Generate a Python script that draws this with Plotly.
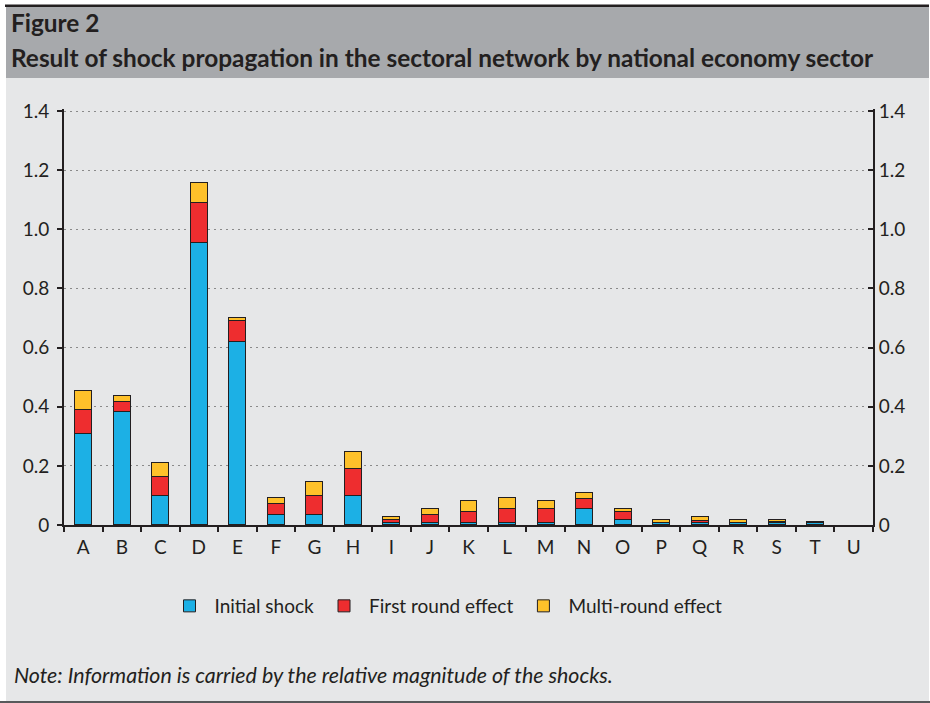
import plotly.graph_objects as go

# Sectors of the national economy (NACE sections)
sectors = list("ABCDEFGHIJKLMNOPQRSTU")

# Contribution of each propagation stage, by sector (None = no contribution drawn)
initial_shock = [0.310, 0.383, 0.100, 0.955, 0.620, 0.037, 0.037, 0.100, 0.007, 0.007,
                 0.010, 0.010, 0.010, 0.055, 0.020, 0.007, 0.007, 0.007, 0.007, 0.010, None]
first_round = [0.081, 0.035, 0.065, 0.137, 0.073, 0.036, 0.064, 0.092, 0.010, 0.030,
               0.037, 0.045, 0.045, 0.035, 0.027, 0.003, 0.009, 0.003, 0.004, 0.001, None]
multi_round = [0.064, 0.019, 0.046, 0.065, 0.009, 0.019, 0.045, 0.055, 0.011, 0.018,
               0.035, 0.037, 0.027, 0.020, 0.010, 0.009, 0.012, 0.009, 0.009, None, None]

y_ticks = [0, 0.2, 0.4, 0.6, 0.8, 1.0, 1.2, 1.4]
y_tick_text = ["0", "0.2", "0.4", "0.6", "0.8", "1.0", "1.2", "1.4"]

series = [
    ("Initial shock", initial_shock, "#1cb0e5"),
    ("First round effect", first_round, "#ee2d2f"),
    ("Multi-round effect", multi_round, "#fec12a"),
]

W, H = 930, 703
FONT = "Lato"
TXT = "#231f20"
Y_MAX = 1.406          # a hair above 1.4 so the top gridline is kept
PX_PER_UNIT = 295.7    # vertical scale of the value axis
Y_ZERO_PX = 525


def px(x):
    return x / W


def py(y):
    return 1 - y / H


fig = go.Figure()
for name, vals, col in series:
    fig.add_trace(go.Bar(
        x=sectors, y=vals, name=name,
        marker=dict(color=col, line=dict(color="#231f20", width=1)),
    ))

# empty trace so the mirrored right-hand value axis gets drawn
fig.add_trace(go.Scatter(x=[], y=[], yaxis="y2", showlegend=False, hoverinfo="skip"))

axis_common = dict(
    range=[0, Y_MAX], tickvals=y_ticks, ticktext=y_tick_text,
    showline=True, linecolor="#231f20", linewidth=2,
    ticklen=5, tickwidth=2, tickcolor="#231f20",
    tickfont=dict(family=FONT, size=19, color=TXT),
    automargin=False, zeroline=False, fixedrange=True,
)

fig.update_layout(
    width=W, height=H, autosize=False,
    margin=dict(l=0, r=0, t=0, b=0),
    paper_bgcolor="white", plot_bgcolor="#e6e7e8",
    barmode="stack", bargap=0.56,
    font=dict(family=FONT, color=TXT),
    xaxis=dict(
        domain=[px(64), px(873)], type="category",
        showline=True, linecolor="#231f20", linewidth=2,
        ticks="outside", tickson="boundaries", ticklen=5, tickwidth=2,
        tickcolor="#231f20", tickfont=dict(family=FONT, size=19, color=TXT),
        ticklabelstandoff=4,
        showgrid=False, automargin=False, fixedrange=True,
    ),
    yaxis=dict(
        domain=[py(Y_ZERO_PX), py(Y_ZERO_PX - Y_MAX * PX_PER_UNIT)],
        ticks="outside", ticklabelstandoff=4,
        showgrid=True, gridcolor="#8a8a8a", griddash="2px,4px", gridwidth=1,
        **axis_common,
    ),
    yaxis2=dict(
        overlaying="y", side="right", ticks="inside", showgrid=False,
        ticklabelstandoff=0, **axis_common,
    ),
    legend=dict(
        orientation="h", x=px(446), xanchor="center", y=py(606), yanchor="middle",
        font=dict(family=FONT, size=19, color=TXT),
        bgcolor="rgba(0,0,0,0)", traceorder="normal", itemwidth=40,
        itemclick=False, itemdoubleclick=False,
    ),
    shapes=[
        # body panel
        dict(type="rect", xref="paper", yref="paper", layer="below",
             x0=px(6), x1=px(929), y0=py(701), y1=py(78),
             fillcolor="#e6e7e8", line=dict(width=0)),
        # header band
        dict(type="rect", xref="paper", yref="paper", layer="below",
             x0=px(6), x1=px(929), y0=py(78), y1=py(7),
             fillcolor="#a7a9ac", line=dict(width=0)),
        # top rule
        dict(type="rect", xref="paper", yref="paper",
             x0=px(5), x1=px(929), y0=py(7), y1=py(4.5),
             fillcolor="#231f20", line=dict(width=0)),
        # bottom rule
        dict(type="rect", xref="paper", yref="paper",
             x0=0, x1=1, y0=0, y1=py(701),
             fillcolor="#58595b", line=dict(width=0)),
    ],
    annotations=[
        dict(text="<b>Figure 2</b>", xref="paper", yref="paper",
             x=px(9), y=py(22), xanchor="left", yanchor="middle", showarrow=False,
             font=dict(family=FONT, size=24.4, color=TXT)),
        dict(text="<b>Result of shock propagation in the sectoral network by national economy sector</b>",
             xref="paper", yref="paper",
             x=px(9), y=py(57), xanchor="left", yanchor="middle", showarrow=False,
             font=dict(family=FONT, size=24.4, color=TXT)),
        dict(text="<i>Note: Information is carried by the relative magnitude of the shocks.</i>",
             xref="paper", yref="paper",
             x=px(12), y=py(675), xanchor="left", yanchor="middle", showarrow=False,
             font=dict(family=FONT, size=21.4, color=TXT)),
    ],
)

fig.write_html("out.html")
